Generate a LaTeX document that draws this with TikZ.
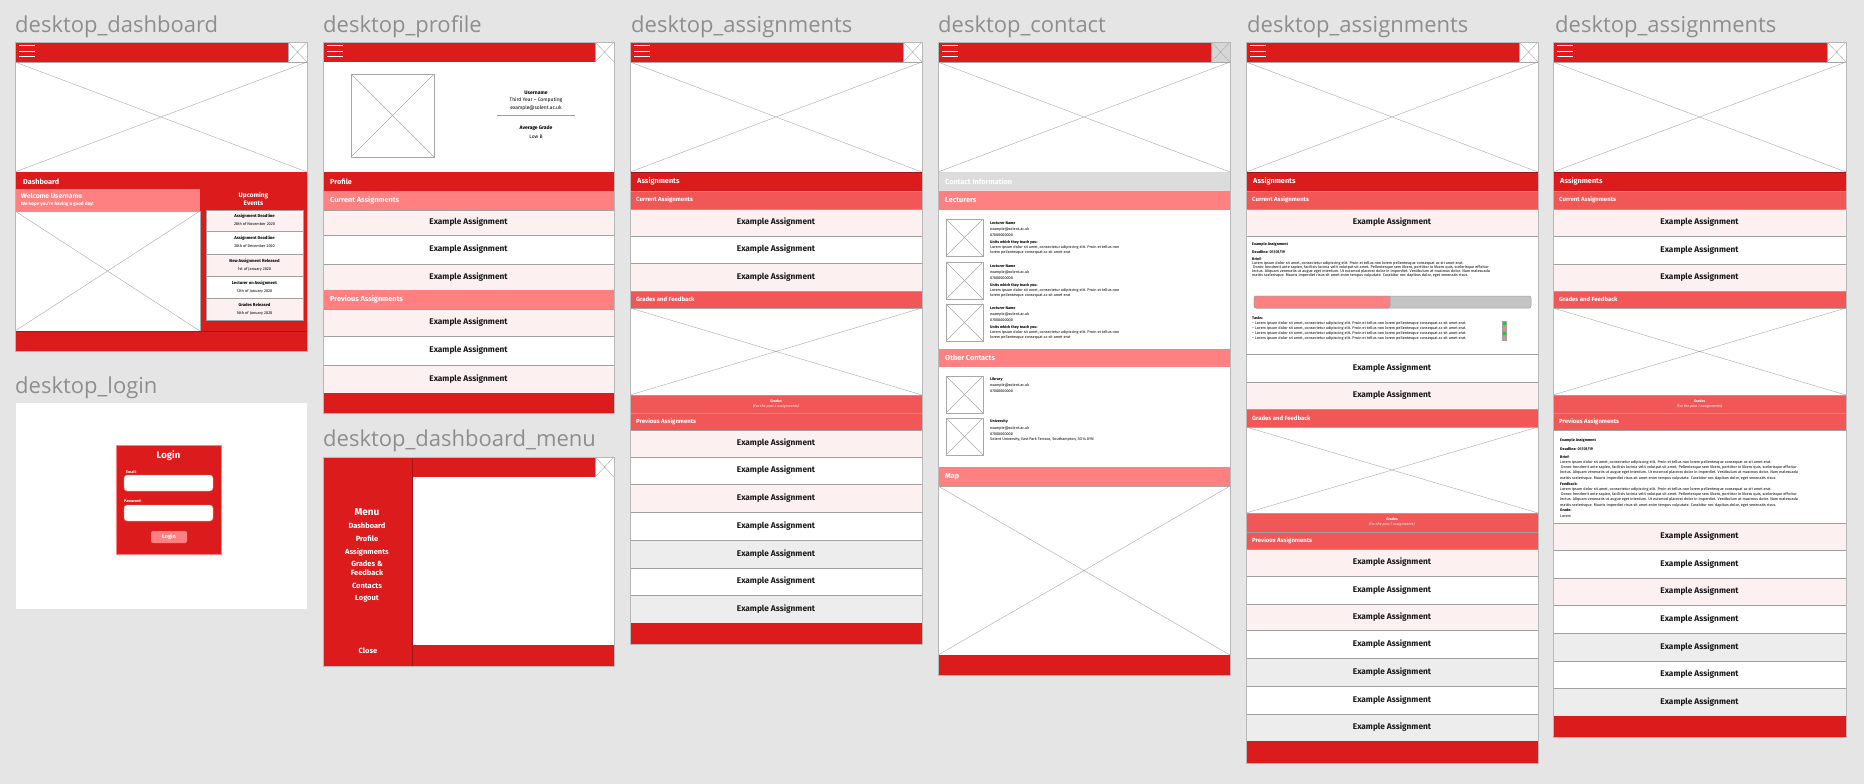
\documentclass[tikz,border=0pt]{standalone}
\usepackage{fontspec}
\setmainfont{Fira Sans}
\newfontfamily\titlefont{Open Sans}
\usepackage{tikz}
\usepackage{color}

\definecolor{bggrey}{HTML}{E5E5E5}
\definecolor{titlegrey}{HTML}{8E8E8E}
\definecolor{wfred}{HTML}{DC1C1C}
\definecolor{darkred}{HTML}{A51515}
\definecolor{wfpink}{HTML}{FF8080}
\definecolor{wfsalmon}{HTML}{F25757}
\definecolor{wfpale}{HTML}{FDF0F0}
\definecolor{wfgrey}{HTML}{EDEDED}
\definecolor{contactgrey}{HTML}{DCDCDC}
\definecolor{closegrey}{HTML}{D6D6D6}
\definecolor{phgrey}{HTML}{A8A8A8}
\definecolor{rowgrey}{HTML}{A0A0A0}
\definecolor{framegrey}{HTML}{B8B8B8}
\definecolor{progrey}{HTML}{C4C4C4}
\definecolor{taskgreen}{HTML}{22CC22}

\tikzset{
  phbox/.style={draw=phgrey, line width=0.5pt},
  phline/.style={draw=phgrey, line width=0.4pt},
  burger/.style={draw=white, line width=1pt},
  itembox/.style={draw=rowgrey, line width=0.6pt},
  redbox/.style={draw=darkred, line width=0.5pt, fill=wfred},
  frameline/.style={draw=framegrey, line width=0.6pt},
  wftitle/.style={font=\titlefont\fontsize{22}{22}\selectfont, text=titlegrey, anchor=base west, inner sep=0},
  itemtext/.style={font=\bfseries\fontsize{8.3}{9}\selectfont, text=black!90, inner sep=0},
  bartext/.style={font=\bfseries\fontsize{7.3}{8}\selectfont, text=white, anchor=west, inner sep=0},
  subbartext/.style={font=\bfseries\fontsize{6}{7}\selectfont, text=white, anchor=west, inner sep=0},
  menutext/.style={font=\bfseries\fontsize{7.5}{9}\selectfont, text=white, inner sep=0, align=center},
  evtitle/.style={font=\bfseries\fontsize{4.2}{5}\selectfont, inner sep=0},
  evdate/.style={font=\fontsize{3.9}{5}\selectfont, inner sep=0},
  proftext/.style={font=\fontsize{5}{6}\selectfont, inner sep=0},
  tinytext/.style={font=\fontsize{3.8}{5}\selectfont, anchor=west, inner sep=0, align=left},
  tinybold/.style={font=\bfseries\fontsize{3.8}{5}\selectfont, anchor=west, inner sep=0},
  fieldlabel/.style={font=\bfseries\fontsize{3.8}{5}\selectfont, text=white, anchor=west, inner sep=0},
  field/.style={fill=white, draw=wfpink, line width=0.4pt, rounded corners=3pt},
  gradestext/.style={font=\fontsize{3.6}{4.6}\selectfont, text=white, inner sep=0, align=center},
}

% placeholder image with a cross
\newcommand{\phimg}[5][white]{%
  \filldraw[phbox, fill=#1] (#2,#3) rectangle (#4,#5);
  \draw[phline] (#2,#3) -- (#4,#5) (#2,#5) -- (#4,#3);}
% red top bar with burger and close box
\newcommand{\topbar}[3][white]{%
  \fill[wfred] (#2,42) rectangle (#3,62);
  \foreach \hy in {46,51.5,57} \draw[burger] (#2+4,\hy) -- (#2+20,\hy);
  \phimg[#1]{#3-19}{42}{#3}{62}}
% one assignment row
\newcommand{\assitem}[6]{%
  \filldraw[itembox, fill=#2] (#3,#5) rectangle (#4,#6);
  \node[itemtext] (#1) at ({(#3+#4)/2},{(#5+#6)/2}) {Example Assignment};}
\newcommand{\loremblock}{Lorem ipsum dolor sit amet, consectetur adipiscing elit. Proin et tellus non lorem pellentesque consequat ac sit amet erat.\\
\ Donec hendrerit ante sapien, facilisis lacinia velit volutpat sit amet. Pellentesque sem libero, porttitor in libero quis, scelerisque efficitur\\
lectus. Aliquam venenatis ut augue eget interdum. Ut euismod placerat dolor in imperdiet. Vestibulum at maximus dolor. Nam malesuada\\
mattis scelerisque. Mauris imperdiet risus sit amet enim tempus vulputate. Curabitur nec dapibus dolor, eget venenatis risus.}

\begin{document}
\begin{tikzpicture}[%
      x=1pt, y=-1pt,
      ]
      \fill[bggrey] (0,0) rectangle (1864,784);
      \useasboundingbox (0,0) rectangle (1864,784);

      % desktop_dashboard
      \node[wftitle] (tdash) at (15,33) {desktop\_dashboard};
      \topbar{15}{307}
      \phimg{15}{62}{307}{172}
      \fill[wfred] (15,172) rectangle (307,351);
      \node[bartext] (dashbar) at (23,181.5) {Dashboard};
      \fill[wfpink] (15,189) rectangle (200,211);
      \node[bartext, font=\bfseries\fontsize{6.8}{8}\selectfont] (welcome) at (21,195.5) {Welcome Username};
      \node[bartext, font=\bfseries\fontsize{4.6}{5}\selectfont] (hope) at (21,204.5) {We hope you're having a good day!};
      \phimg{15}{211}{200}{331}
      \node[menutext, font=\bfseries\fontsize{6.5}{8}\selectfont] (upcoming) at (253.5,199) {Upcoming\\Events};
      \foreach \ya/\yb/\fc/\ev/\dt [count=\i] in {210/231.5/wfpale/Assignment Deadline/28th of November 2020,
          231.5/254.5/white/Assignment Deadline/20th of December 2020,
          254.5/276.5/wfpale/New Assignment Released/1st of January 2020,
          276.5/298.5/white/Lecturer on Assignment/12th of January 2020,
          298.5/320/wfpale/Grades Released/16th of January 2020} {
        \filldraw[itembox, fill=\fc] (206,\ya) rectangle (303,\yb);
        \node[evtitle] (ev\i) at (254.5,\ya+6.5) {\ev};
        \node[evdate] (evd\i) at (254.5,\ya+14.5) {\dt};
      }
      \draw[darkred, line width=0.6pt] (15,331) -- (307,331);
      \draw[frameline] (15,42) rectangle (307,351);

      % desktop_login
      \node[wftitle] (tlogin) at (15,393) {desktop\_login};
      \filldraw[fill=white, draw=bggrey] (15,402) rectangle (307,609);
      \filldraw[fill=wfred, draw=wfpink, line width=0.5pt] (116,445) rectangle (221,554);
      \node[menutext, font=\bfseries\fontsize{9.5}{10}\selectfont] (logintitle) at (168.5,456) {Login};
      \node[fieldlabel] (emaillab) at (126,471.5) {Email:};
      \filldraw[field] (124,475) rectangle (213,491);
      \node[fieldlabel] (pwlab) at (124,501.5) {Password:};
      \filldraw[field] (124,505) rectangle (213,521);
      \node[fill=wfpink, rounded corners=2pt, minimum width=36pt, minimum height=12pt, inner sep=0,
        font=\bfseries\fontsize{5.5}{6}\selectfont, text=white] (loginbtn) at (169,537) {Login};

      % desktop_profile
      \node[wftitle] (tprofile) at (323,33) {desktop\_profile};
      \topbar{323}{614}
      \fill[white] (323,62) rectangle (614,172);
      \phimg{351}{74}{434}{157}
      \node[proftext, font=\bfseries\fontsize{5}{6}\selectfont] (uname) at (536,93) {Username};
      \node[proftext] (year) at (536,100.5) {Third Year -- Computing};
      \node[proftext] (pmail) at (536,108) {example@solent.ac.uk};
      \draw[rowgrey, line width=0.5pt] (497,115) -- (575,115);
      \node[proftext, font=\bfseries\fontsize{5}{6}\selectfont] (avg) at (536,128.5) {Average Grade};
      \node[proftext] (grade) at (536,137) {Low B};
      \fill[wfred] (323,172) rectangle (614,191);
      \node[bartext] (profbar) at (330,181.5) {Profile};
      \fill[wfpink] (323,191) rectangle (614,210);
      \node[bartext] (pcur) at (330,200.5) {Current Assignments};
      \foreach \ya/\yb/\fc [count=\i] in {210/235/wfpale, 235/264/white, 264/290/wfpale}
        \assitem{pc\i}{\fc}{323}{614}{\ya}{\yb};
      \fill[wfpink] (323,290) rectangle (614,309);
      \node[bartext] (pprev) at (330,299.5) {Previous Assignments};
      \foreach \ya/\yb/\fc [count=\i] in {309/336/wfpale, 336/365/white, 365/393/wfpale}
        \assitem{pp\i}{\fc}{323}{614}{\ya}{\yb};
      \fill[wfred] (323,393) rectangle (614,413);
      \draw[frameline] (323,42) rectangle (614,413);

      % desktop_dashboard_menu
      \node[wftitle] (tmenu) at (323,446) {desktop\_dashboard\_menu};
      \fill[wfred] (323,457) rectangle (412,666);
      \fill[wfred] (412,457) rectangle (614,477);
      \phimg{595}{457}{614}{477}
      \fill[white] (412,477) rectangle (614,645);
      \fill[wfred] (412,645) rectangle (614,666);
      \draw[darkred, line width=0.6pt] (412,457) -- (412,666);
      \node[menutext, font=\bfseries\fontsize{10}{11}\selectfont] (menu) at (367,512) {Menu};
      \foreach \my/\mt [count=\i] in {526/Dashboard, 539/Profile, 552/Assignments, 564/Grades \&,
          573/Feedback, 586/Contacts, 599/Logout}
        \node[menutext] (menu\i) at (367,\my) {\mt};
      \node[menutext] (menuclose) at (368,651) {Close};
      \draw[frameline] (323,457) rectangle (614,666);

      % desktop_assignments
      \node[wftitle] (tass) at (631,33) {desktop\_assignments};
      \topbar{630}{922}
      \phimg{630}{62}{922}{172}
      \filldraw[redbox] (630,172) rectangle (922,191);
      \node[bartext] (abar) at (637,181.5) {Assignments};
      \filldraw[itembox, fill=wfsalmon] (630,191) rectangle (922,209);
      \node[subbartext] (acur) at (636,200) {Current Assignments};
      \foreach \ya/\yb/\fc [count=\i] in {209/236/wfpale, 236/263/white, 263/291/wfpale}
        \assitem{ac\i}{\fc}{630}{922}{\ya}{\yb};
      \filldraw[itembox, fill=wfsalmon] (630,291) rectangle (922,308);
      \node[subbartext] (agf) at (636,299.5) {Grades and Feedback};
      \phimg{630}{308}{922}{395}
      \filldraw[itembox, fill=wfsalmon] (630,395) rectangle (922,413);
      \node[gradestext] (agrades) at (776,404) {\textbf{Grades}\\\textit{(For the past 3 assignments)}};
      \filldraw[itembox, fill=wfsalmon] (630,413) rectangle (922,430);
      \node[subbartext] (aprev) at (636,421.5) {Previous Assignments};
      \foreach \ya/\yb/\fc [count=\i] in {430/457/wfpale, 457/484/white, 484/512/wfpale, 512/540/white,
          540/568/wfgrey, 568/595/white, 595/623/wfgrey}
        \assitem{ap\i}{\fc}{630}{922}{\ya}{\yb};
      \fill[wfred] (630,623) rectangle (922,644);
      \draw[frameline] (630,42) rectangle (922,644);

      % desktop_contact
      \node[wftitle] (tcontact) at (938,33) {desktop\_contact};
      \topbar[closegrey]{938}{1230}
      \phimg{938}{62}{1230}{172}
      \fill[white] (938,172) rectangle (1230,655);
      \fill[contactgrey] (938,172) rectangle (1230,191);
      \node[bartext] (cinfo) at (945,181.5) {Contact Information};
      \fill[wfpink] (938,191) rectangle (1230,210);
      \node[bartext] (clect) at (945,200.5) {Lecturers};
      \foreach \ly [count=\i] in {219,262,304} {
        \phimg{946}{\ly}{983}{\ly+37}
        \node[tinybold] (lname\i) at (990,\ly+4) {Lecturer Name};
        \node[tinytext] (lmail\i) at (990,\ly+10) {example@solent.ac.uk};
        \node[tinytext] (lphone\i) at (990,\ly+16) {07000000000};
        \node[tinybold] (lunits\i) at (990,\ly+23) {Units which they teach you:};
        \node[tinytext] (llorem\i) at (990,\ly+30.5) {Lorem ipsum dolor sit amet, consectetur adipiscing elit. Proin et tellus non\\lorem pellentesque consequat ac sit amet erat};
      }
      \fill[wfpink] (938,349) rectangle (1230,367);
      \node[bartext] (cother) at (945,358) {Other Contacts};
      \phimg{946}{376}{983}{413}
      \node[tinybold] (libname) at (990,379.5) {Library};
      \node[tinytext] (libmail) at (990,385.5) {example@solent.ac.uk};
      \node[tinytext] (libphone) at (990,391) {07000000000};
      \phimg{946}{418}{983}{455}
      \node[tinybold] (uniname) at (990,421.5) {University};
      \node[tinytext] (unimail) at (990,428) {example@solent.ac.uk};
      \node[tinytext] (uniphone) at (990,434) {07000000000};
      \node[tinytext] (uniaddr) at (990,439) {Solent University, East Park Terrace, Southampton, SO14 0YN};
      \fill[wfpink] (938,467) rectangle (1230,486);
      \node[bartext] (cmap) at (945,476.5) {Map};
      \phimg{938}{486}{1230}{655}
      \fill[wfred] (938,655) rectangle (1230,675);
      \draw[frameline] (938,42) rectangle (1230,675);

      % desktop_assignments (current open)
      \node[wftitle] (tassb) at (1247,33) {desktop\_assignments};
      \topbar{1246}{1538}
      \phimg{1246}{62}{1538}{172}
      \filldraw[redbox] (1246,172) rectangle (1538,191);
      \node[bartext] (bbar) at (1253,181.5) {Assignments};
      \filldraw[itembox, fill=wfsalmon] (1246,191) rectangle (1538,209);
      \node[subbartext] (bcur) at (1252,200) {Current Assignments};
      \assitem{bc1}{wfpale}{1246}{1538}{209}{236}
      \filldraw[itembox, fill=white] (1246,236) rectangle (1538,354);
      \node[tinybold] (bname) at (1252,244) {Example Assignment};
      \node[tinybold] (bdead) at (1252,252) {Deadline: 01/01/19};
      \node[tinybold] (bbrief) at (1252,259) {Brief:};
      \node[tinytext, font=\fontsize{3.8}{4.1}\selectfont] (blorem) at (1252,269.3) {\loremblock};
      \filldraw[draw=rowgrey, fill=progrey, line width=0.5pt, rounded corners=2pt] (1254,296) rectangle (1531,308);
      \filldraw[draw=rowgrey, fill=wfpink, line width=0.5pt, rounded corners=2pt] (1254,296) rectangle (1390,308);
      \node[tinybold] (btasks) at (1252,318) {Tasks:};
      \foreach \ty/\tc [count=\i] in {323/taskgreen, 328/wfpink, 333/taskgreen, 338/wfpink} {
        \node[tinytext] (btask\i) at (1252,\ty) {-- Lorem ipsum dolor sit amet, consectetur adipiscing elit. Proin et tellus non lorem pellentesque consequat ac sit amet erat.};
        \filldraw[draw=rowgrey, fill=\tc, line width=0.3pt] (1502.5,\ty-1.7) rectangle (1506.5,\ty+1.7);
      }
      \assitem{bc2}{white}{1246}{1538}{354}{382}
      \assitem{bc3}{wfpale}{1246}{1538}{382}{409}
      \filldraw[itembox, fill=wfsalmon] (1246,409) rectangle (1538,427);
      \node[subbartext] (bgf) at (1252,418) {Grades and Feedback};
      \phimg{1246}{427}{1538}{513}
      \filldraw[itembox, fill=wfsalmon] (1246,513) rectangle (1538,532);
      \node[gradestext] (bgrades) at (1392,522) {\textbf{Grades}\\\textit{(For the past 7 assignments)}};
      \filldraw[itembox, fill=wfsalmon] (1246,532) rectangle (1538,549);
      \node[subbartext] (bprev) at (1252,540.5) {Previous Assignments};
      \foreach \ya/\yb/\fc [count=\i] in {549/576/wfpale, 576/604/white, 604/630/wfpale, 630/658/white,
          658/686/wfgrey, 686/714/white, 714/741/wfgrey}
        \assitem{bp\i}{\fc}{1246}{1538}{\ya}{\yb};
      \fill[wfred] (1246,741) rectangle (1538,763);
      \draw[frameline] (1246,42) rectangle (1538,763);

      % desktop_assignments (previous open)
      \node[wftitle] (tassc) at (1555,33) {desktop\_assignments};
      \topbar{1553}{1846}
      \phimg{1553}{62}{1846}{172}
      \filldraw[redbox] (1553,172) rectangle (1846,191);
      \node[bartext] (cbar) at (1560,181.5) {Assignments};
      \filldraw[itembox, fill=wfsalmon] (1553,191) rectangle (1846,209);
      \node[subbartext] (ccur) at (1559,200) {Current Assignments};
      \foreach \ya/\yb/\fc [count=\i] in {209/236/wfpale, 236/264/white, 264/291/wfpale}
        \assitem{cc\i}{\fc}{1553}{1846}{\ya}{\yb};
      \filldraw[itembox, fill=wfsalmon] (1553,291) rectangle (1846,308);
      \node[subbartext] (cgf) at (1559,299.5) {Grades and Feedback};
      \phimg{1553}{308}{1846}{395}
      \filldraw[itembox, fill=wfsalmon] (1553,395) rectangle (1846,413);
      \node[gradestext] (cgrades) at (1699.5,404) {\textbf{Grades}\\\textit{(For the past 7 assignments)}};
      \filldraw[itembox, fill=wfsalmon] (1553,413) rectangle (1846,430);
      \node[subbartext] (cprev) at (1559,421.5) {Previous Assignments};
      \filldraw[itembox, fill=white] (1553,430) rectangle (1846,523);
      \node[tinybold] (cname) at (1560,440) {Example Assignment};
      \node[tinybold] (cdead) at (1560,449) {Deadline: 01/01/19};
      \node[tinybold] (cbrief) at (1560,457) {Brief:};
      \node[tinytext, font=\fontsize{3.8}{5.3}\selectfont] (clorem) at (1560,470) {\loremblock};
      \node[tinybold] (cfeed) at (1560,484) {Feedback:};
      \node[tinytext, font=\fontsize{3.8}{5.3}\selectfont] (cflorem) at (1560,497) {\loremblock};
      \node[tinybold] (cgrade) at (1560,510.5) {Grade:};
      \node[tinytext] (cgradeval) at (1560,516) {Lorem};
      \foreach \ya/\yb/\fc [count=\i] in {523/550/wfpale, 550/578/white, 578/605/wfpale, 605/633/white,
          633/661/wfgrey, 661/688/white, 688/716/wfgrey}
        \assitem{cp\i}{\fc}{1553}{1846}{\ya}{\yb};
      \fill[wfred] (1553,716) rectangle (1846,737);
      \draw[frameline] (1553,42) rectangle (1846,737);
\end{tikzpicture}
\end{document}
